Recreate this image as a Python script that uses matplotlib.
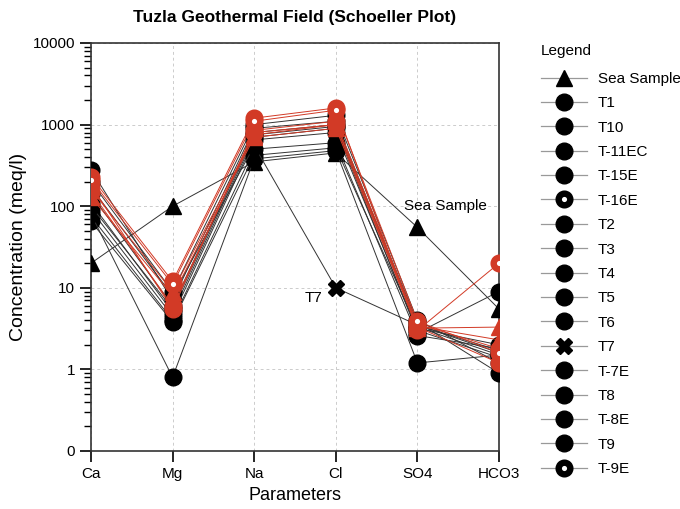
import numpy as np
import matplotlib
matplotlib.use("Agg")
import matplotlib.pyplot as plt
from matplotlib.lines import Line2D
from matplotlib.ticker import FixedLocator, LogLocator, NullFormatter

plt.rcParams['font.family'] = ['Liberation Sans', 'DejaVu Sans']

# parameters on the x axis
params = ["Ca", "Mg", "Na", "Cl", "SO4", "HCO3"]

# concentrations (meq/l)
sea = [20, 100, 350, 450, 55, 5.5]
t1 = [280, 7, 900, 1100, 3.5, 1.6]
t10 = [90, 4.5, 650, 800, 3.0, 1.4]
t11ec = [150, 6, 800, 1000, 3.3, 1.2]
t15e = [180, 5.5, 850, 1100, 3.6, 1.8]
t16e = [230, 12, 1200, 1600, 3.0, 20]
t2 = [110, 5, 700, 900, 2.8, 9]
t3 = [75, 4, 500, 600, 2.6, 1.8]
t4 = [65, 3.8, 420, 520, 3.2, 2.0]
t5 = [140, 6, 800, 1000, 3.8, 0.9]
t6 = [80, 0.8, 380, 480, 1.2, 1.5]
t7 = [170, 8, 550, 10, 3.5, 1.7]
t7e = [130, 8, 700, 900, 3.2, 3.3]
t8 = [200, 9, 1000, 1300, 4.0, 1.2]
t8e = [160, 9, 750, 1000, 3.4, 2.3]
t9 = [100, 5.5, 750, 950, 3.3, 1.5]
t9e = [210, 11, 1100, 1500, 3.9, 1.6]

# name, values, plot colour, plot marker, legend marker
series = [
    ("Sea Sample", sea, "black", "^", "^"),
    ("T1", t1, "black", "o", "o"),
    ("T10", t10, "black", "o", "o"),
    ("T-11EC", t11ec, "#d23a26", "o", "o"),
    ("T-15E", t15e, "#d23a26", "o", "o"),
    ("T-16E", t16e, "#d23a26", "ring", "ring"),
    ("T2", t2, "black", "o", "o"),
    ("T3", t3, "black", "o", "o"),
    ("T4", t4, "black", "o", "o"),
    ("T5", t5, "black", "o", "o"),
    ("T6", t6, "black", "o", "o"),
    ("T7", t7, "black", "X", "X"),
    ("T-7E", t7e, "#d23a26", "^", "o"),
    ("T8", t8, "black", "o", "o"),
    ("T-8E", t8e, "#d23a26", "^", "o"),
    ("T9", t9, "black", "o", "o"),
    ("T-9E", t9e, "#d23a26", "ring", "ring"),
]

fig = plt.figure(figsize=(6.8, 5.09), dpi=100)
ax = fig.add_axes([91/680, 58/509, 408/680, 408/509])

x = np.arange(len(params))


def marker_kw(m, c):
    if m == "ring":
        return dict(marker="o", markersize=8.4, mfc="white", mec=c, mew=4.6)
    if m == "X":
        return dict(marker="X", markersize=11, mfc=c, mec=c)
    return dict(marker=m, markersize=12, mfc=c, mec=c)


handles = []
for name, vals, col, mk, lmk in series:
    z = 4 if col != "black" else 3
    lc = col if col != "black" else "#333333"
    ax.plot(x, vals, color=lc, lw=0.7, zorder=z, **marker_kw(mk, col))
    handles.append(Line2D([0], [0], color="#999999", lw=0.9, **marker_kw(lmk, "black")))

ax.set_yscale("log")
ax.set_ylim(0.1, 10000)
ax.set_xlim(0, 5)
ax.yaxis.set_major_locator(FixedLocator([0.1, 1, 10, 100, 1000, 10000]))
ax.set_yticklabels(["0", "1", "10", "100", "1000", "10000"])
ax.yaxis.set_minor_locator(LogLocator(base=10, subs=np.arange(2, 10)))
ax.yaxis.set_minor_formatter(NullFormatter())
ax.set_xticks(x)
ax.set_xticklabels(params)
ax.tick_params(axis="both", which="major", length=8, width=1.2, labelsize=11, direction="out")
ax.tick_params(axis="y", which="minor", length=5, width=1.0)
ax.grid(True, which="major", color="#cccccc", ls=(0, (3, 3)), lw=0.7)
for s in ax.spines.values():
    s.set_linewidth(1.2)
    s.set_color("#333333")

ax.text(3.84, 100, "Sea Sample", fontsize=11, ha="left", va="center")
ax.text(2.84, 7.6, "T7", fontsize=11, ha="right", va="center")

ax.set_title("Tuzla Geothermal Field (Schoeller Plot)", fontsize=12.5, fontweight="bold", pad=15)
ax.set_ylabel("Concentration (meq/l)", fontsize=14, labelpad=4)
ax.set_xlabel("Parameters", fontsize=13, labelpad=4)

leg = fig.legend(handles, [s[0] for s in series], loc="upper left",
                 bbox_to_anchor=(541/680, 1 - 44/509), frameon=False,
                 fontsize=11, title="Legend", title_fontsize=11,
                 handlelength=3.0, handletextpad=0.7, labelspacing=0.68,
                 borderaxespad=0, borderpad=0)
leg._legend_box.align = "left"
leg._legend_box.sep = 10

fig.savefig("out.png", dpi=100)
